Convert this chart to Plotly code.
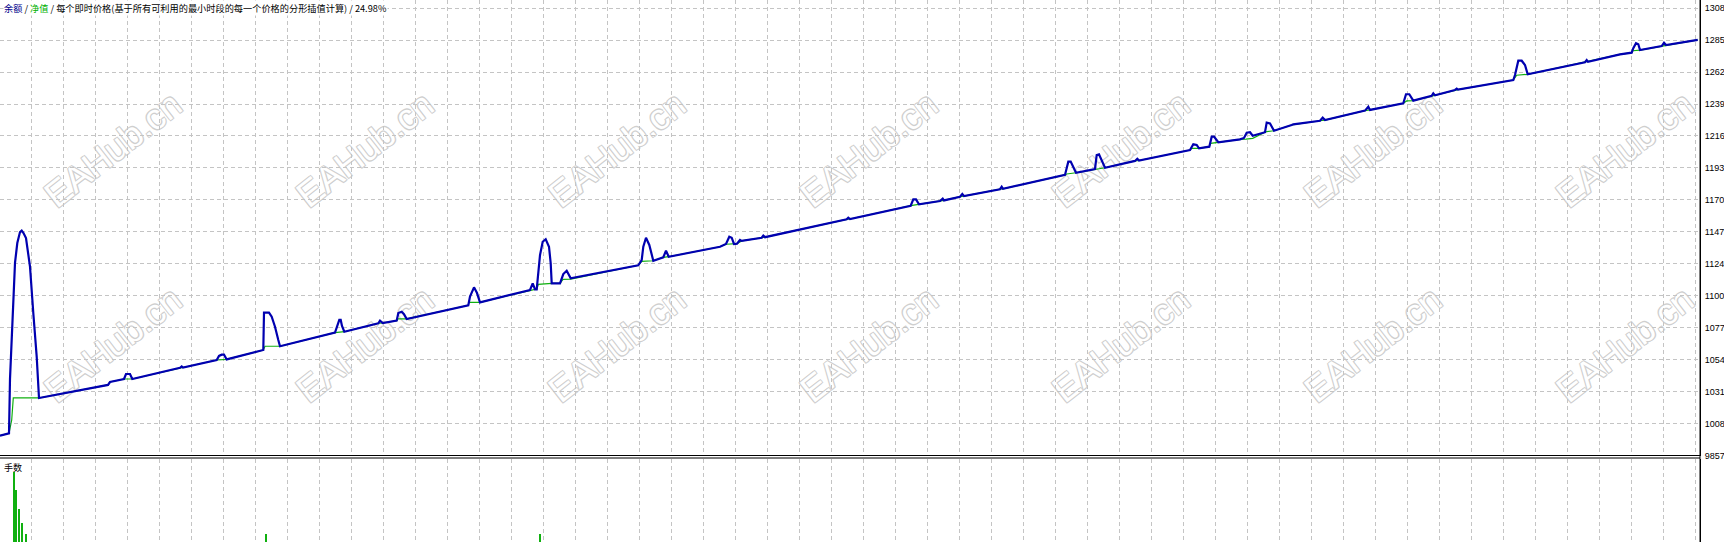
import plotly.graph_objects as go

# 余额 curve (blue): trade position and balance
balance_x = [0, 9, 10, 12.3, 15, 17.3, 20, 21.7, 23.5, 26, 30, 33.3, 36.7, 39,
             108, 110, 124, 126, 128, 130, 132.3, 180, 181.7, 183,
             216.7, 219, 221.7, 224, 226.7, 263.3, 264, 265.7, 269, 271.7, 275, 278.3, 280,
             335, 338, 339.3, 340.7, 342, 344.3, 378.3, 380, 382.7,
             396.7, 398.3, 401.7, 404, 406.7, 468.3, 470, 474, 477, 480,
             530, 532.7, 535, 536.7, 540, 542.7, 545.7, 549, 550.7, 551.7, 560,
             563.3, 566.7, 570.7, 638.3, 641.7, 643.3, 646, 649.3, 651.5, 653.3,
             663.3, 666, 668.7, 720, 726, 729.3, 731.7, 734, 737, 740, 741.7,
             761.7, 763.3, 765, 846.7, 848.3, 850, 910.7, 913.3, 916, 919,
             940, 942.7, 944, 960, 962.3, 964, 1000, 1001.7, 1003,
             1065, 1068.3, 1070.7, 1072.7, 1076, 1095, 1096.7, 1099, 1101.7, 1105,
             1135, 1137.3, 1139, 1190, 1193.3, 1196.7, 1199, 1209.3, 1211.7, 1214, 1218.3,
             1240, 1244, 1246.7, 1250, 1252.7, 1265, 1266.7, 1270, 1274,
             1291.7, 1293.3, 1320, 1322.7, 1325, 1365, 1368.3, 1370,
             1403.3, 1406, 1409.3, 1413.3, 1431.7, 1433.3, 1435, 1455, 1456.7, 1458,
             1513.3, 1515, 1518.3, 1521.7, 1525, 1527.7, 1585, 1586.7, 1588,
             1620, 1631.7, 1633.3, 1636, 1638.3, 1640, 1661.7, 1664, 1666, 1697.7]
balance = [10000, 10017, 10409, 10813, 11246, 11390, 11469, 11479, 11462, 11426, 11219, 10885, 10570, 10272,
           10366, 10387, 10409, 10445, 10447, 10445, 10409, 10490, 10500, 10492,
           10546, 10575, 10584, 10584, 10550, 10618, 10887, 10887, 10887, 10858, 10786, 10690, 10645,
           10743, 10820, 10835, 10835, 10791, 10750, 10811, 10830, 10813,
           10830, 10885, 10894, 10877, 10842, 10941, 11003, 11070, 11029, 10962,
           11051, 11099, 11056, 11056, 11303, 11399, 11417, 11363, 11244, 11099, 11099,
           11166, 11190, 11135, 11229, 11267, 11363, 11428, 11376, 11303, 11262,
           11287, 11334, 11291, 11363, 11383, 11435, 11428, 11383, 11385, 11412, 11405,
           11428, 11443, 11432, 11561, 11573, 11563, 11659, 11705, 11705, 11669,
           11693, 11710, 11697, 11724, 11744, 11728, 11778, 11796, 11781,
           11881, 11977, 11977, 11946, 11897, 11924, 12025, 12030, 11989, 11933,
           11982, 11998, 11985, 12061, 12102, 12097, 12073, 12085, 12157, 12157, 12117,
           12138, 12148, 12186, 12189, 12164, 12189, 12258, 12253, 12200,
           12241, 12246, 12272, 12294, 12277, 12345, 12373, 12350,
           12398, 12463, 12463, 12417, 12451, 12470, 12455, 12494, 12503, 12496,
           12566, 12602, 12705, 12705, 12674, 12607, 12694, 12710, 12697,
           12751, 12763, 12795, 12831, 12824, 12782, 12811, 12835, 12818, 12855]

# 净值 curve (green)
equity_x = [0, 9, 11.7, 13.3, 39, 108, 110, 124, 132.3, 180, 183, 216.7, 226.7,
            263.3, 265, 280, 335, 344.3, 378.3, 382.7, 396.7, 398, 406.7, 468.3, 469, 480,
            530, 535, 536.7, 538.3, 551.7, 560, 563, 570.7, 638.3, 641.7, 653.3, 663.3, 668.7,
            720, 726, 734, 737, 741.7, 761.7, 765, 846.7, 850, 910.7, 919, 940, 944, 960, 964,
            1000, 1003, 1065, 1066.7, 1076, 1095, 1105, 1135, 1139, 1190, 1191.7, 1199,
            1209.3, 1210.7, 1218.3, 1240, 1246, 1252.7, 1265, 1266.7, 1274, 1291.7, 1320, 1325,
            1365, 1370, 1403.3, 1406.7, 1413.3, 1431.7, 1435, 1455, 1458, 1513.3, 1516.7, 1527.7,
            1585, 1588, 1620, 1631.7, 1633, 1640, 1661.7, 1666, 1697.7]
equity = [10000, 10017, 10113, 10272, 10272, 10366, 10387, 10409, 10409, 10490, 10492, 10546, 10550,
          10618, 10645, 10645, 10743, 10750, 10811, 10813, 10830, 10842, 10842, 10941, 10962, 10962,
          11051, 11056, 11056, 11092, 11099, 11099, 11128, 11130, 11229, 11258, 11262, 11287, 11291,
          11363, 11381, 11383, 11385, 11405, 11428, 11432, 11561, 11563, 11659, 11669, 11693, 11697, 11724, 11728,
          11778, 11781, 11881, 11888, 11897, 11924, 11933, 11982, 11985, 12061, 12073, 12073,
          12085, 12109, 12117, 12138, 12140, 12145, 12189, 12193, 12200, 12241, 12272, 12277,
          12345, 12350, 12398, 12415, 12417, 12451, 12455, 12494, 12496, 12566, 12600, 12607,
          12694, 12697, 12751, 12763, 12777, 12782, 12811, 12818, 12855]

# 手数 panel
lot_x = [13.8, 16.1, 19.1, 22.2, 26.4, 266.4, 539.6]
lots = [0.70, 0.52, 0.33, 0.19, 0.08, 0.08, 0.08]

# right axis labels
tick_values = [9857, 10087.5, 10318, 10548.5, 10779, 11009.5, 11240, 11470.5,
               11701, 11931.5, 12162, 12392.5, 12623, 12853.5, 13084]
tick_text = ["9857", "1008", "1031", "1054", "1077", "1100", "1124", "1147",
             "1170", "1193", "1216", "1239", "1262", "1285", "1308"]

# watermark centres (pixels inside plot area)
wm_x = [111, 363, 615, 867, 1119, 1371, 1623]
wm_y = [147, 342]

W, H, R = 1724, 542, 24
PW = W - R
main_bottom = 455.5
lots_top = 458.5

fig = go.Figure()
fig.add_trace(go.Scatter(x=equity_x, y=equity, mode="lines",
                         line=dict(color="#10b010", width=1.2), xaxis="x", yaxis="y"))
fig.add_trace(go.Scatter(x=balance_x, y=balance, mode="lines",
                         line=dict(color="#0000b0", width=2.2), xaxis="x", yaxis="y"))
fig.add_trace(go.Bar(x=lot_x, y=lots, width=1.1, marker=dict(color="#10b010", line=dict(width=0)),
                     xaxis="x2", yaxis="y2"))

grid = dict(showgrid=True, gridcolor="#c4c4c4", griddash="4px,3px", gridwidth=1)
xcommon = dict(range=[0, PW], tick0=31.5, dtick=32, showticklabels=False, ticks="",
               zeroline=False, showline=False, automargin=False, **grid)

shadow = "1px 1px 0 #cfcfcf, -1px -1px 0 #cfcfcf, 1px -1px 0 #cfcfcf, -1px 1px 0 #cfcfcf"
shapes = []
for yc in wm_y:
    for xc in wm_x:
        shapes.append(dict(
            type="rect", xref="paper", yref="paper",
            x0=(xc - 90) / PW, x1=(xc + 90) / PW,
            y0=1 - (yc + 60) / H, y1=1 - (yc - 60) / H,
            line=dict(width=0), fillcolor="rgba(0,0,0,0)", layer="below",
            label=dict(text="EAHub.cn", textangle=-38, textposition="middle center",
                       font=dict(family="Liberation Sans", size=36, color="white", shadow=shadow)),
        ))
for py in [main_bottom, lots_top - 0.5]:
    shapes.append(dict(type="line", xref="paper", yref="paper", x0=0, x1=1,
                       y0=1 - py / H, y1=1 - py / H, line=dict(color="black", width=1)))
shapes.append(dict(type="line", xref="paper", yref="paper", x0=1, x1=1, y0=0, y1=1,
                   line=dict(color="black", width=1)))

fig.update_layout(
    template="none",
    width=W, height=H,
    margin=dict(l=0, r=R, t=0, b=0),
    paper_bgcolor="white", plot_bgcolor="white",
    showlegend=False, hovermode=False,
    xaxis=dict(domain=[0, 1], anchor="y", **xcommon),
    xaxis2=dict(domain=[0, 1], anchor="y2", matches="x", **xcommon),
    yaxis=dict(domain=[1 - main_bottom / H, 1], range=[9857, 13143], side="right",
               tickvals=tick_values, ticktext=tick_text, ticks="", ticklen=0,
               ticklabelstandoff=2, automargin=False,
               tickfont=dict(family="Liberation Sans", size=9, color="black"),
               showline=True, linecolor="black", linewidth=1, zeroline=False, **grid),
    yaxis2=dict(domain=[0, 1 - lots_top / H], range=[0, 0.835], side="right",
                showticklabels=False, ticks="", showgrid=False, zeroline=False,
                showline=True, linecolor="black", linewidth=1, automargin=False),
    shapes=shapes,
    annotations=[
        dict(xref="paper", yref="paper", x=0, y=1, xanchor="left", yanchor="top",
             xshift=3, yshift=0, showarrow=False, bgcolor="white", borderpad=0,
             font=dict(family="Noto Sans CJK SC", size=9.2, color="black"),
             text='<span style="color:#00008b">余额</span> / <span style="color:#00b000">净值</span>'
                  ' / 每个即时价格(基于所有可利用的最小时段的每一个价格的分形插值计算) / 24.98%'),
        dict(xref="paper", yref="paper", x=0, y=1 - 467 / H, xanchor="left", yanchor="middle",
             xshift=2, showarrow=False,
             font=dict(family="Noto Sans CJK SC", size=9, color="black"), text="手数"),
    ],
)

fig.write_html("out.html", config={"displayModeBar": False},
               post_script="document.body.style.margin='0';document.body.style.padding='0';")
